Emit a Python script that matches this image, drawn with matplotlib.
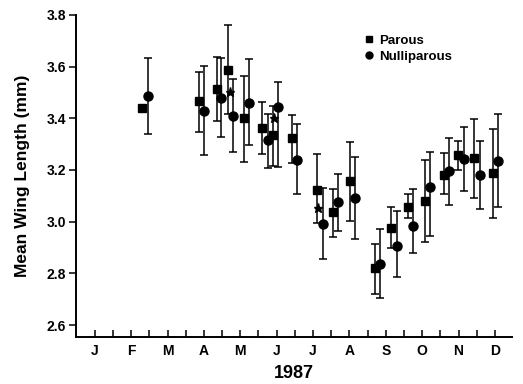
import numpy as np
import matplotlib
matplotlib.use("Agg")
import matplotlib.pyplot as plt
from matplotlib.lines import Line2D

plt.rcParams['font.family'] = ['Liberation Sans', 'DejaVu Sans']
plt.rcParams['font.weight'] = 'bold'

# month position: Jan = 1 ... Dec = 12
parous_x = [2.29, 3.87, 4.36, 4.67, 5.10, 5.60, 5.90, 6.43, 7.12, 7.54, 8.02,
            8.69, 9.14, 9.60, 10.08, 10.60, 10.99, 11.43, 11.95]
parous_y = [3.44, 3.467, 3.515, 3.588, 3.40, 3.364, 3.335, 3.323, 3.121, 3.036, 3.157,
            2.822, 2.974, 3.058, 3.081, 3.181, 3.258, 3.248, 3.19]
parous_lo = [3.44, 3.348, 3.39, 3.416, 3.232, 3.262, 3.215, 3.227, 2.995, 2.94, 3.004,
             2.72, 2.897, 3.013, 2.92, 3.107, 3.2, 3.093, 3.015]
parous_hi = [3.44, 3.58, 3.639, 3.763, 3.564, 3.464, 3.448, 3.413, 3.263, 3.128, 3.31,
             2.913, 3.055, 3.106, 3.239, 3.265, 3.313, 3.396, 3.357]

nullip_x = [2.45, 4.00, 4.48, 4.79, 5.24, 5.75, 6.05, 6.56, 7.27, 7.69, 8.15,
            8.85, 9.30, 9.75, 10.21, 10.74, 11.15, 11.59, 12.08]
nullip_y = [3.486, 3.428, 3.48, 3.409, 3.46, 3.316, 3.445, 3.24, 2.992, 3.075, 3.092,
            2.837, 2.907, 2.984, 3.133, 3.197, 3.243, 3.181, 3.236]
nullip_lo = [3.339, 3.258, 3.329, 3.268, 3.297, 3.206, 3.21, 3.107, 2.854, 2.964, 2.933,
             2.703, 2.787, 2.88, 2.946, 3.064, 3.12, 3.049, 3.055]
nullip_hi = [3.635, 3.601, 3.632, 3.551, 3.63, 3.416, 3.542, 3.377, 3.13, 3.186, 3.251,
             2.973, 3.042, 3.125, 3.268, 3.325, 3.368, 3.313, 3.416]

star_x = [4.73, 5.93, 7.14]
star_y = [3.50, 3.40, 3.054]

months = ['J', 'F', 'M', 'A', 'M', 'J', 'J', 'A', 'S', 'O', 'N', 'D']
yticks = [2.6, 2.8, 3.0, 3.2, 3.4, 3.6, 3.8]

fig = plt.figure(figsize=(5.23, 3.84), dpi=100)
ax = fig.add_axes([0.145, 0.122, 0.834, 0.839])

py = np.array(parous_y)
ny = np.array(nullip_y)
perr = [py - np.array(parous_lo), np.array(parous_hi) - py]
nerr = [ny - np.array(nullip_lo), np.array(nullip_hi) - ny]

ax.errorbar(parous_x, parous_y, yerr=perr, fmt='s', color='black', ms=5.5,
            ecolor='black', elinewidth=1.1, capsize=3, capthick=1.1)
ax.errorbar(nullip_x, nullip_y, yerr=nerr, fmt='o', color='black', ms=6.5,
            ecolor='black', elinewidth=1.1, capsize=3, capthick=1.1)
ax.plot(star_x, star_y, '*', color='black', ms=6.5)

ax.set_xlim(0.48, 12.47)
ax.set_ylim(2.553, 3.8)

ax.set_xticks(np.arange(1, 13))
ax.set_xticklabels(months)
ax.set_xticks(np.arange(1.5, 12.5, 1), minor=True)
ax.tick_params(axis='x', which='both', direction='in', length=5, width=1.1,
               labelsize=10, pad=5)
ax.set_yticks(yticks)
ax.set_yticklabels(['%.1f' % v for v in yticks])
ax.tick_params(axis='y', direction='out', length=5, width=1.1, labelsize=10, pad=2)

for s in ['top', 'right']:
    ax.spines[s].set_visible(False)
for s in ['left', 'bottom']:
    ax.spines[s].set_linewidth(1.4)

ax.set_ylabel('Mean Wing Length (mm)', fontsize=12.5, fontweight='bold', labelpad=12)
ax.set_xlabel('1987', fontsize=13, fontweight='bold', labelpad=5)

handles = [Line2D([], [], ls='none', marker='s', color='black', ms=5),
           Line2D([], [], ls='none', marker='o', color='black', ms=5)]
ax.legend(handles, ['Parous', 'Nulliparous'], loc='upper left',
          bbox_to_anchor=(0.65, 0.955), frameon=False, fontsize=9.5,
          handlelength=0.6, handletextpad=0.5, labelspacing=0.25, borderaxespad=0)

fig.savefig('out.png', dpi=100)
